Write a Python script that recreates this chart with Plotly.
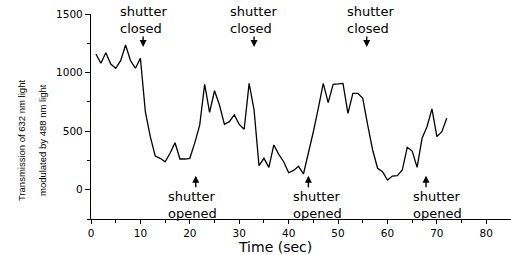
import plotly.graph_objects as go

time_s = list(range(1, 73))
transmission = [
    1159, 1079, 1170, 1073, 1037, 1102, 1236, 1102, 1037, 1122,
    666, 453, 288, 268, 239, 311, 401, 262, 262, 268,
    400, 552, 900, 661, 845, 723, 558, 581, 638, 558,
    516, 908, 681, 205, 268, 191, 382, 302, 239, 145,
    165, 200, 134, 311, 495, 695, 908, 743, 900, 903,
    908, 652, 823, 823, 780, 552, 339, 183, 154, 83,
    117, 120, 168, 362, 330, 191, 439, 538, 690, 453,
    495, 610,
]

closed_times = [10.55, 33.0, 55.8]
closed_text_x = [5.4, 27.7, 51.4]
opened_times = [21.2, 44.0, 67.8]
opened_text_x = [15.15, 40.5, 64.85]

x_ticks = [0, 10, 20, 30, 40, 50, 60, 70, 80]
y_ticks = [0, 500, 1000, 1500]

fig = go.Figure()
fig.add_trace(go.Scatter(x=time_s, y=transmission, mode="lines",
                         line=dict(color="black", width=1.3), showlegend=False,
                         hoverinfo="skip"))

ann_font = dict(family="DejaVu Sans", size=13, color="black")
for xa, xt in zip(closed_times, closed_text_x):
    fig.add_annotation(x=xa, y=1219, ax=0, ay=-12, text="", showarrow=True,
                       arrowhead=2, arrowsize=1, arrowwidth=1.4, arrowcolor="black")
    fig.add_annotation(x=xt, y=1450, text="shutter<br>closed", showarrow=False,
                       xanchor="left", yanchor="middle", align="left", font=ann_font)
for xa, xt in zip(opened_times, opened_text_x):
    fig.add_annotation(x=xa, y=119, ax=0, ay=13, text="", showarrow=True,
                       arrowhead=2, arrowsize=1, arrowwidth=1.4, arrowcolor="black")
    fig.add_annotation(x=xt, y=-131, text="shutter<br>opened", showarrow=False,
                       xanchor="left", yanchor="middle", align="left", font=ann_font)

title_font = dict(family="Liberation Sans Narrow, Liberation Sans, Arial, sans-serif",
                  size=9.5, color="black")
fig.add_annotation(xref="paper", yref="y", x=-0.1667, y=424, text="Transmission of 632 nm light",
                   textangle=-90, showarrow=False, font=title_font, xanchor="center")
fig.add_annotation(xref="paper", yref="y", x=-0.1167, y=424, text="modulated by 488 nm light",
                   textangle=-90, showarrow=False, font=title_font, xanchor="center")
fig.add_annotation(xref="paper", yref="paper", x=0.438, y=-0.135,
                   text="Time (sec)", showarrow=False, xanchor="center", yanchor="middle",
                   font=dict(family="DejaVu Sans", size=14, color="black"))

tick_font = dict(family="DejaVu Sans", size=10.5, color="black")
fig.update_xaxes(range=[0, 85], tickvals=x_ticks, ticks="outside", ticklen=4, tickwidth=1,
                 tickcolor="black", showline=True, linecolor="black", linewidth=1.3,
                 showgrid=False, zeroline=False, tickfont=tick_font, automargin=False,
                 minor=dict(dtick=5, tick0=0, ticks="outside", ticklen=3, tickcolor="black"))
fig.update_yaxes(range=[-250, 1500], tickvals=y_ticks, ticks="outside", ticklen=5, tickwidth=1,
                 tickcolor="black", showline=True, linecolor="black", linewidth=1.3,
                 showgrid=False, zeroline=False, tickfont=tick_font, automargin=False,
                 minor=dict(dtick=250, tick0=-250, ticks="outside", ticklen=3, tickcolor="black"))

fig.update_layout(width=511, height=255, margin=dict(l=91, r=0, t=14, b=36),
                  plot_bgcolor="white", paper_bgcolor="white")
fig.write_html("out.html", config={"displayModeBar": False},
               post_script="document.body.style.margin='0';")
